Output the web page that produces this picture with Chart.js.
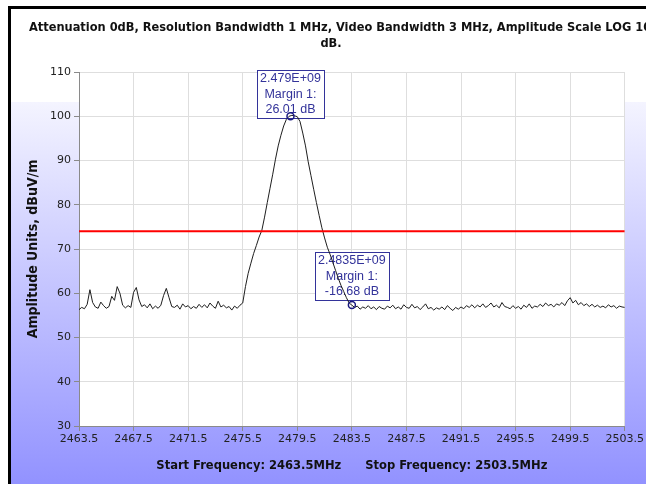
<!DOCTYPE html>
<html><head><meta charset="utf-8">
<script src="https://cdn.jsdelivr.net/npm/chart.js@4.4.1/dist/chart.umd.min.js"></script>
<style>html,body{margin:0;padding:0;background:#fff;overflow:hidden}</style>
</head><body>
<canvas id="c" width="646" height="484"></canvas>
<script>
// ---- data ----
const startFreqMHz = 2463.5;
const stopFreqMHz = 2503.5;
const titleLines = ['Attenuation 0dB, Resolution Bandwidth 1 MHz, Video Bandwidth 3 MHz, Amplitude Scale LOG 10', 'dB.'];
const yAxisTitle = 'Amplitude Units, dBuV/m';
const xAxisTitle = 'Start Frequency: 2463.5MHz      Stop Frequency: 2503.5MHz';
const xTickValues = [2463.5, 2467.5, 2471.5, 2475.5, 2479.5, 2483.5, 2487.5, 2491.5, 2495.5, 2499.5, 2503.5];
const yTickValues = [30, 40, 50, 60, 70, 80, 90, 100, 110];
const limitLevel = 74;
const markerFreqs = [2479.0, 2483.5];
const markerLevels = [100.01, 57.32];
const markerFreqLabels = ['2.479E+09', '2.4835E+09'];
const markerMarginLabels = ['26.01 dB', '-16.68 dB'];
const markerMarginTitle = ['Margin 1:', 'Margin 1:'];
// measured trace, one value per sweep point (0.2 MHz)
const amplitude = [
 56.3,56.8,56.5,57.5,60.8,57.9,56.9,56.6,58.0,57.2,
 56.6,57.0,59.3,58.4,61.5,60.0,57.3,56.7,57.2,56.8,
 60.2,61.3,58.5,57.0,57.4,56.7,57.6,56.5,57.1,56.6,
 57.3,59.5,61.1,59.0,57.0,56.8,57.3,56.4,57.6,56.9,
 57.2,56.5,57.0,56.6,57.5,56.8,57.4,56.7,57.8,57.1,
 56.6,58.2,56.9,57.3,56.7,57.0,56.2,57.1,56.6,57.3,
 57.8,61.5,64.5,66.8,69.0,70.8,72.7,74.2,77.2,80.5,
 83.7,86.9,90.3,93.3,95.7,97.8,99.3,100.0,100.2,100.1,
 99.9,98.8,96.2,93.3,89.7,86.6,83.5,80.5,77.6,74.8,
 72.5,70.4,68.8,67.0,65.2,63.4,61.8,60.4,59.0,57.8,
 57.3,56.8,57.1,56.4,56.9,56.6,57.2,56.5,56.9,56.3,
 57.0,56.6,56.4,57.1,56.7,57.3,56.5,56.9,56.4,57.4,
 56.8,56.6,57.5,56.7,57.0,56.3,56.9,57.6,56.5,56.8,
 56.2,56.7,56.4,56.9,56.3,57.2,56.6,56.1,56.8,56.4,
 56.9,56.5,57.2,56.8,57.4,56.7,57.3,56.9,57.6,56.8,
 57.2,57.8,56.9,57.3,56.7,57.9,57.0,56.8,56.5,57.2,
 56.6,57.0,56.4,57.3,56.8,57.6,56.6,57.1,56.9,57.5,
 57.0,57.8,57.2,57.5,56.9,57.6,57.3,57.9,57.2,58.3,
 59.0,57.8,58.4,57.4,57.9,57.2,57.6,57.0,57.5,56.9,
 57.3,56.8,57.1,56.7,57.4,56.9,57.2,56.6,57.1,56.9,
 56.8
];

// sweep points (x positions of the instrument's sweep)
const sweepFreqs = amplitude.map((_, i) => startFreqMHz + i * (stopFreqMHz - startFreqMHz) / (amplitude.length - 1));
const traceData = amplitude.map((v, i) => ({x: sweepFreqs[i], y: v}));
const limitData = [{x: startFreqMHz, y: limitLevel}, {x: stopFreqMHz, y: limitLevel}];
const markerData = markerFreqs.map((f, i) => ({x: f, y: markerLevels[i]}));

const TITLE_FONT = '"DejaVu Sans Condensed", "DejaVu Sans", sans-serif';
const TICK_FONT = '"DejaVu Sans", sans-serif';

const backdrop = {
  id: 'backdrop',
  beforeDraw(chart) {
    const {ctx, chartArea: a} = chart;
    ctx.save();
    ctx.fillStyle = '#ffffff';
    ctx.fillRect(0, 0, chart.width, chart.height);
    const g = ctx.createLinearGradient(0, 102, 0, chart.height);
    g.addColorStop(0, '#f4f4ff');
    g.addColorStop(1, '#9292ff');
    ctx.fillStyle = g;
    ctx.fillRect(11, 102, chart.width - 11, chart.height - 102);
    ctx.fillStyle = '#000000';
    ctx.fillRect(8, 6, 3, chart.height - 6);
    ctx.fillRect(8, 6, chart.width - 8, 3);
    ctx.fillStyle = '#ffffff';
    ctx.fillRect(a.left, a.top, a.right - a.left, a.bottom - a.top);
    ctx.fillStyle = '#111111';
    ctx.font = 'bold 12.7px ' + TITLE_FONT;
    ctx.textAlign = 'center';
    ctx.textBaseline = 'middle';
    ctx.fillText(titleLines[0], 340, 28);
    ctx.fillText(titleLines[1], 331, 44);
    ctx.restore();
  }
};

const markerBoxes = {
  id: 'markerBoxes',
  beforeDatasetsDraw(chart, args, opts) {
    const {ctx} = chart;
    const xs = chart.scales.x, ys = chart.scales.y;
    ctx.save();
    ctx.font = '12.5px "Liberation Sans", Arial, sans-serif';
    markerFreqs.forEach((f, i) => {
      const px = xs.getPixelForValue(f);
      const py = ys.getPixelForValue(markerLevels[i]);
      const lines = [markerFreqLabels[i], markerMarginTitle[i], markerMarginLabels[i]];
      const w = Math.round(Math.max(...lines.map(l => ctx.measureText(l).width)) + 6);
      const h = 48;
      const bottom = Math.round(py + opts.shift[i]);
      const top = bottom - h;
      const left = Math.round(px - w / 2);
      ctx.fillStyle = '#ffffff';
      ctx.fillRect(left, top, w, h);
      ctx.strokeStyle = '#33339a';
      ctx.lineWidth = 1;
      ctx.strokeRect(left + 0.5, top + 0.5, w, h);
      ctx.fillStyle = '#33339a';
      ctx.textAlign = 'center';
      ctx.textBaseline = 'middle';
      lines.forEach((l, k) => ctx.fillText(l, px, top + 9 + k * 15.5));
    });
    ctx.restore();
  }
};

new Chart(document.getElementById('c'), {
  type: 'scatter',
  data: {
    datasets: [
      {label: 'markers', data: markerData, showLine: false, pointRadius: 3.5, pointHoverRadius: 3.5,
       borderColor: '#1a1a80', backgroundColor: 'rgba(0,0,0,0)', borderWidth: 1.5, order: 0},
      {label: 'limit', data: limitData, showLine: true, borderColor: '#ff0000', borderWidth: 2,
       pointRadius: 0, fill: false, order: 1},
      {label: 'trace', data: traceData, showLine: true, borderColor: '#1e1e1e', borderWidth: 1,
       pointRadius: 0, fill: false, tension: 0, order: 2}
    ]
  },
  plugins: [backdrop, markerBoxes],
  options: {
    responsive: false,
    animation: false,
    devicePixelRatio: 1,
    layout: {padding: {left: 0, right: 21, top: 72, bottom: 0}},
    plugins: {
      legend: {display: false},
      tooltip: {enabled: false},
      title: {display: false},
      markerBoxes: {shift: [2, -5]}
    },
    scales: {
      x: {
        type: 'linear', min: startFreqMHz, max: stopFreqMHz,
        afterBuildTicks: s => { s.ticks = xTickValues.map(v => ({value: v})); },
        afterFit: s => { s.height = 58; },
        ticks: {autoSkip: false, maxRotation: 0, padding: 2, color: '#222222',
                font: {family: TICK_FONT, size: 11}, callback: v => Number(v).toFixed(1)},
        grid: {color: '#dedede', lineWidth: 1, tickLength: 5, tickColor: '#8a8a8a'},
        border: {color: '#8a8a8a'},
        title: {display: true, text: xAxisTitle, color: '#111111',
                font: {family: TITLE_FONT, size: 12.8, weight: 'bold'}, padding: {top: 0, bottom: 11}}
      },
      y: {
        min: 30, max: 110,
        afterBuildTicks: s => { s.ticks = yTickValues.map(v => ({value: v})); },
        afterFit: s => { s.width = 79; },
        ticks: {padding: 3, color: '#222222', font: {family: TICK_FONT, size: 11}},
        grid: {color: '#dedede', lineWidth: 1, tickLength: 5, tickColor: '#8a8a8a'},
        border: {color: '#8a8a8a'},
        title: {display: true, text: yAxisTitle, color: '#111111',
                font: {family: TITLE_FONT, size: 14, weight: 'bold'}, padding: {top: 25, bottom: 0}}
      }
    }
  }
});
</script>
</body></html>
